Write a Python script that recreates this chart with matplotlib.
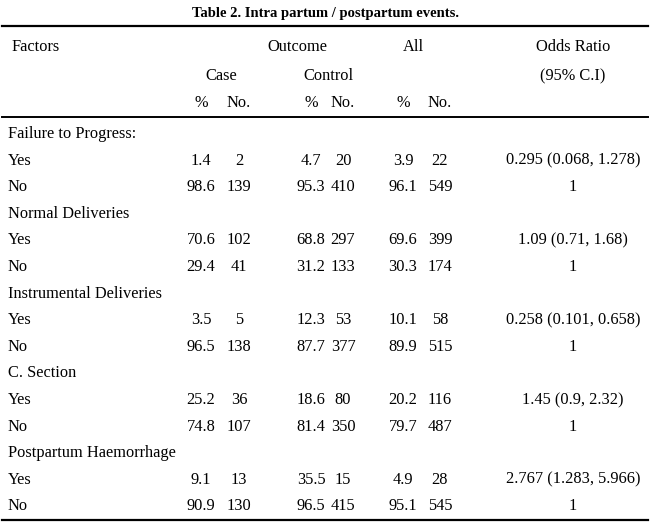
import matplotlib.pyplot as plt

plt.rcParams['font.family'] = ['Liberation Serif', 'DejaVu Serif']

groups = ["Failure to Progress:", "Normal Deliveries", "Instrumental Deliveries",
          "C. Section", "Postpartum Haemorrhage"]
case_pct = [["1.4", "98.6"], ["70.6", "29.4"], ["3.5", "96.5"], ["25.2", "74.8"], ["9.1", "90.9"]]
case_no = [["2", "139"], ["102", "41"], ["5", "138"], ["36", "107"], ["13", "130"]]
ctrl_pct = [["4.7", "95.3"], ["68.8", "31.2"], ["12.3", "87.7"], ["18.6", "81.4"], ["35.5", "96.5"]]
ctrl_no = [["20", "410"], ["297", "133"], ["53", "377"], ["80", "350"], ["15", "415"]]
all_pct = [["3.9", "96.1"], ["69.6", "30.3"], ["10.1", "89.9"], ["20.2", "79.7"], ["4.9", "95.1"]]
all_no = [["22", "549"], ["399", "174"], ["58", "515"], ["116", "487"], ["28", "545"]]
odds = [["0.295 (0.068, 1.278)", "1"], ["1.09 (0.71, 1.68)", "1"],
        ["0.258 (0.101, 0.658)", "1"], ["1.45 (0.9, 2.32)", "1"],
        ["2.767 (1.283, 5.966)", "1"]]

W, H = 650, 531
fig = plt.figure(figsize=(6.5, 5.31), dpi=100)
ax = fig.add_axes([0, 0, 1, 1])
ax.set_xlim(0, W)
ax.set_ylim(H, 0)
ax.axis('off')

fs = 11.8
ax.text(W / 2, 14, "Table 2. Intra partum / postpartum events.", ha='center', va='center',
        fontsize=10.5, fontweight='bold')
ax.plot([2, 648], [26, 26], color='black', lw=1.6)
ax.plot([2, 648], [117, 117], color='black', lw=1.4)
ax.plot([2, 648], [520, 520], color='black', lw=1.6)

ax.text(12, 47, "Factors", va='center', fontsize=fs)
ax.text(297, 47, "Outcome", ha='center', va='center', fontsize=fs)
ax.text(413, 47, "All", ha='center', va='center', fontsize=fs)
ax.text(573, 47, "Odds Ratio", ha='center', va='center', fontsize=fs)
ax.text(221, 76, "Case", ha='center', va='center', fontsize=fs)
ax.text(328, 76, "Control", ha='center', va='center', fontsize=fs)
ax.text(573, 76, "(95% C.I)", ha='center', va='center', fontsize=fs)
cols = [201, 239, 311, 343, 403, 440]
for x, lab in zip(cols, ["%", "No.", "%", "No.", "%", "No."]):
    ax.text(x, 103, lab, ha='center', va='center', fontsize=fs)

y0, dy = 134, 26.6
row = 0
for g in range(len(groups)):
    ax.text(8, y0 + row * dy, groups[g], va='center', fontsize=fs)
    row += 1
    for k, lab in enumerate(["Yes", "No"]):
        y = y0 + row * dy
        ax.text(8, y, lab, va='center', fontsize=fs)
        vals = [case_pct[g][k], case_no[g][k], ctrl_pct[g][k], ctrl_no[g][k],
                all_pct[g][k], all_no[g][k]]
        for x, v in zip(cols, vals):
            ax.text(x, y, v, ha='center', va='center', fontsize=fs)
        ax.text(573, y, odds[g][k], ha='center', va='center', fontsize=fs)
        row += 1

fig.savefig("out.png", dpi=100, facecolor='white')
